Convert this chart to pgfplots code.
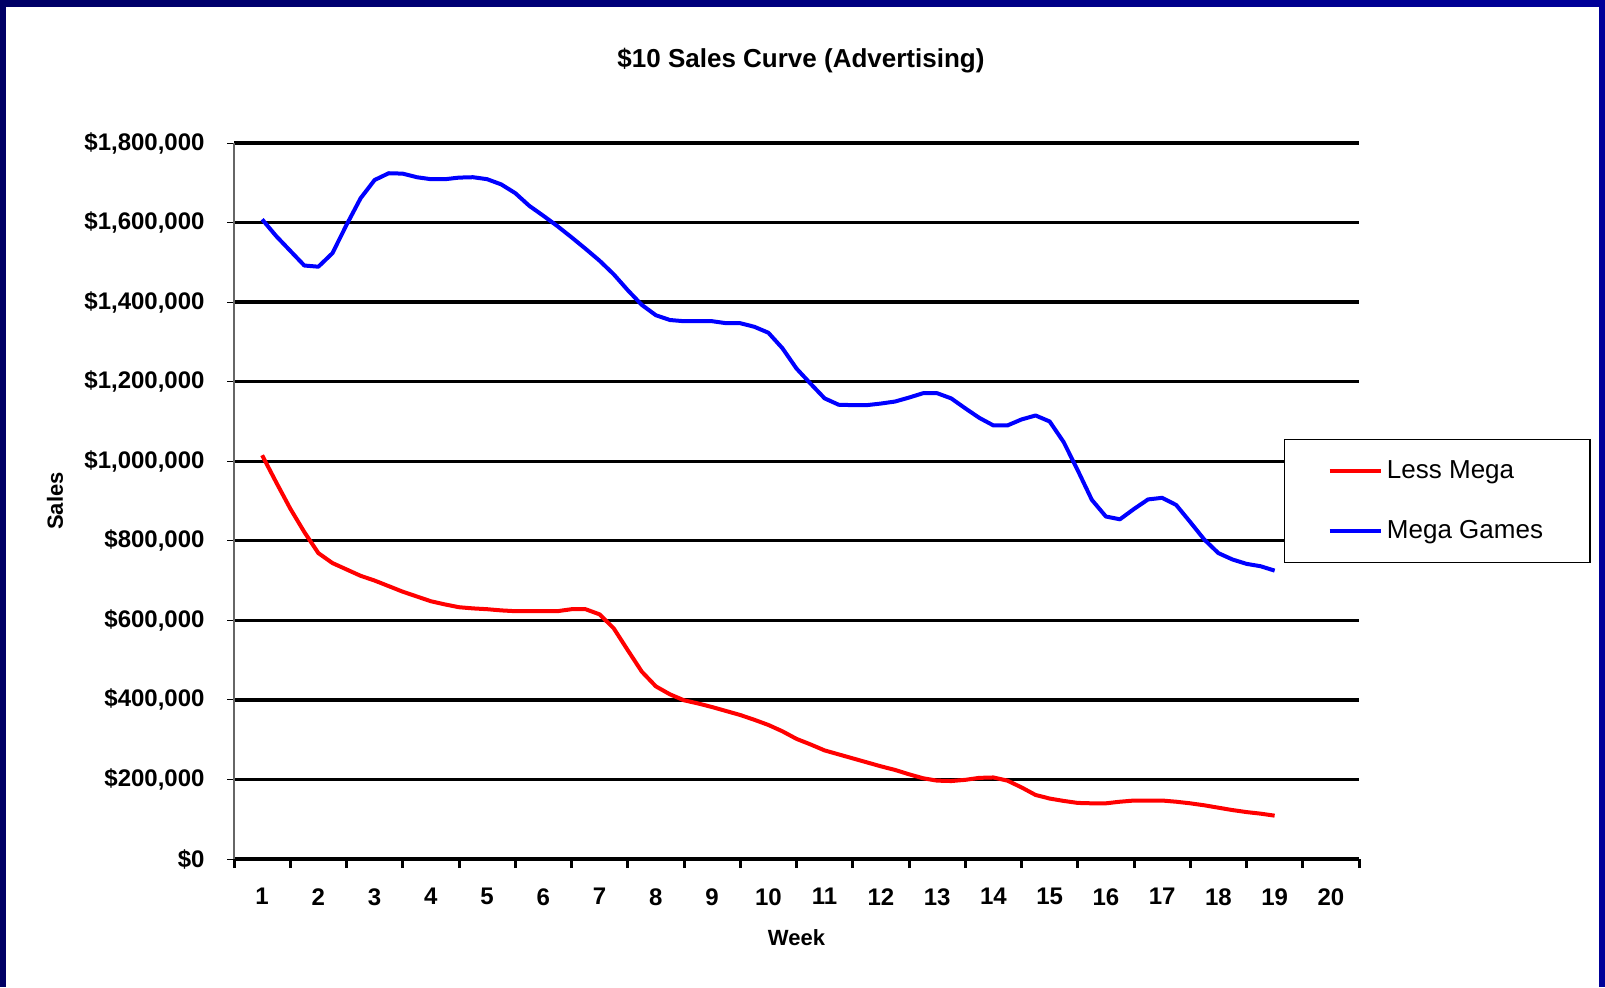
\documentclass[border=0pt]{standalone}
\usepackage{pgfplots}
\pgfplotsset{compat=1.18}
\usepackage{fontspec}
\setmainfont{Liberation Sans}
\definecolor{navyL}{RGB}{0,0,102}
\definecolor{navyR}{RGB}{0,0,153}
\pgfplotstableread{
w v
1.00 1015000
1.25 947000
1.50 881000
1.75 822000
2.00 769000
2.25 744000
2.50 728000
2.75 712000
3.00 700000
3.25 686000
3.50 672000
3.75 660000
4.00 648000
4.25 640000
4.50 633000
4.75 630000
5.00 628000
5.25 625000
5.50 623000
5.75 623000
6.00 623000
6.25 623000
6.50 628000
6.75 628000
7.00 615000
7.25 580000
7.50 525000
7.75 471000
8.00 434000
8.25 414000
8.50 399000
8.75 391000
9.00 382000
9.25 372000
9.50 362000
9.75 350000
10.00 337000
10.25 321000
10.50 302000
10.75 288000
11.00 273000
11.25 263000
11.50 253000
11.75 243000
12.00 233000
12.25 224000
12.50 213000
12.75 203000
13.00 197000
13.25 196000
13.50 199000
13.75 204000
14.00 205000
14.25 197000
14.50 180000
14.75 161000
15.00 152000
15.25 146000
15.50 141000
15.75 140000
16.00 140000
16.25 144000
16.50 147000
16.75 147000
17.00 147000
17.25 144000
17.50 140000
17.75 135000
18.00 129000
18.25 123000
18.50 118000
18.75 114000
19.00 109000
}\lessmega
\pgfplotstableread{
w v
1.00 1608000
1.25 1566000
1.50 1529000
1.75 1492000
2.00 1489000
2.25 1523000
2.50 1594000
2.75 1661000
3.00 1707000
3.25 1724000
3.50 1723000
3.75 1714000
4.00 1709000
4.25 1709000
4.50 1713000
4.75 1714000
5.00 1709000
5.25 1696000
5.50 1674000
5.75 1642000
6.00 1617000
6.25 1591000
6.50 1563000
6.75 1534000
7.00 1504000
7.25 1470000
7.50 1430000
7.75 1393000
8.00 1367000
8.25 1355000
8.50 1352000
8.75 1352000
9.00 1352000
9.25 1347000
9.50 1347000
9.75 1338000
10.00 1323000
10.25 1284000
10.50 1233000
10.75 1195000
11.00 1158000
11.25 1142000
11.50 1141000
11.75 1141000
12.00 1145000
12.25 1150000
12.50 1160000
12.75 1171000
13.00 1171000
13.25 1158000
13.50 1133000
13.75 1109000
14.00 1090000
14.25 1090000
14.50 1105000
14.75 1115000
15.00 1100000
15.25 1048000
15.50 977000
15.75 903000
16.00 861000
16.25 854000
16.50 880000
16.75 904000
17.00 908000
17.25 890000
17.50 847000
17.75 803000
18.00 769000
18.25 753000
18.50 742000
18.75 736000
19.00 725000
}\megagames
\begin{document}
\begin{tikzpicture}
\useasboundingbox (0,0) rectangle (802.5pt,493.5pt);
\fill[white] (0,0) rectangle (802.5pt,493.5pt);
\fill[navyL] (0,0) rectangle (3pt,493.5pt);
\shade[left color=navyL, right color=navyR] (0,490pt) rectangle (802.5pt,493.5pt);
\fill[navyR] (799.5pt,0) rectangle (802.5pt,493.5pt);
\begin{axis}[
  at={(117pt,64pt)}, anchor=south west,
  scale only axis, width=562.5pt, height=358pt,
  xmin=0.5, xmax=20.5, ymin=0, ymax=1800000,
  axis x line*=bottom, axis y line*=left,
  x axis line style={line width=1.7pt, black},
  y axis line style={line width=0.6pt, black!60},
  xtick={1,...,20},
  minor xtick={0.5,1.5,...,20.5},
  major x tick style={draw=none},
  minor x tick style={line width=1.5pt, black},
  minor tick length=4.5pt,
  major tick length=3.5pt,
  tick align=outside,
  ytick={0,200000,...,1800000},
  y tick style={line width=0.5pt, black},
  ymajorgrids,
  major grid style={line width=1.7pt, black},
  scaled y ticks=false,
  yticklabel={\$\pgfmathprintnumber[fixed,precision=0,1000 sep={,}]{\tick}},
  /pgf/number format/assume math mode=true,
  tick label style={font=\bfseries\fontsize{12}{14}\selectfont},
  yticklabel style={xshift=-7.7pt},
  xticklabel style={yshift=-7.7pt},
  title={\$10 Sales Curve (Advertising)},
  title style={font=\bfseries\fontsize{13}{15}\selectfont, at={(axis description cs:0.504,1.0887)}, anchor=base},
  xlabel={Week},
  xlabel style={font=\bfseries\fontsize{11}{13}\selectfont, at={(axis description cs:0.5,-0.1098)}, anchor=center},
  ylabel={Sales},
  ylabel style={font=\bfseries\fontsize{11}{13}\selectfont, at={(axis description cs:-0.1591,0.5)}, anchor=center},
  legend style={at={(0.9333,0.5866)}, anchor=north west, draw=black, line width=0.6pt, fill=white,
    font=\fontsize{13}{15.6}\selectfont, inner xsep=21.5pt, inner ysep=8.4pt, row sep=15.75pt,
    cells={anchor=west}, nodes={inner sep=2pt, text depth=0.15em}},
  legend image code/.code={\draw[#1] (0pt,0pt) -- (25.7pt,0pt);},
]
\addplot[red, line width=2pt, line join=round] table[x=w, y=v] {\lessmega};
\addlegendentry{Less Mega}
\addplot[blue, line width=2pt, line join=round] table[x=w, y=v] {\megagames};
\addlegendentry{Mega Games}
\end{axis}
\end{tikzpicture}
\end{document}
